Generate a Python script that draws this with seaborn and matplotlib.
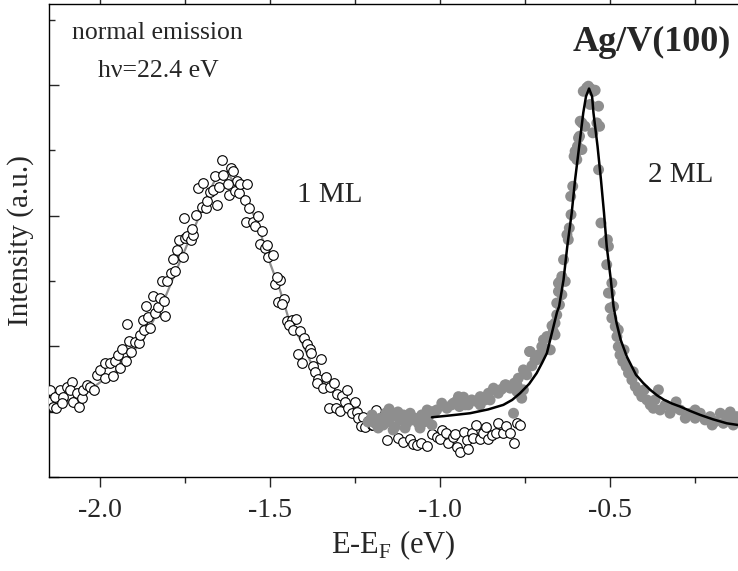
import matplotlib
matplotlib.use('Agg')
import matplotlib.pyplot as plt
from matplotlib.ticker import MultipleLocator, FormatStrFormatter, NullFormatter
import seaborn as sns

# ------------------------------------------------------------
# Data (binding energy vs intensity)
# ------------------------------------------------------------

# 1 ML: open circles
ml1_x = [-2.147, -2.150, -2.132, -2.137, -2.118, -2.129, -2.108, -2.113, -2.098, -2.083,
         -2.088, -2.078, -2.069, -2.061, -2.054, -2.049, -2.039, -2.029, -2.018, -2.010,
         -2.000, -1.985, -1.985, -1.971, -1.961, -1.956, -1.941, -1.946, -1.936, -1.924,
         -1.920, -1.914, -1.910, -1.897, -1.884, -1.882, -1.871, -1.874, -1.865, -1.853,
         -1.858, -1.843, -1.838, -1.829, -1.824, -1.812, -1.808, -1.819, -1.804, -1.792,
         -1.779, -1.786, -1.774, -1.757, -1.767, -1.750, -1.745, -1.733, -1.726, -1.729,
         -1.752, -1.718, -1.701, -1.688, -1.686, -1.655, -1.711, -1.696, -1.676, -1.667,
         -1.662, -1.649, -1.642, -1.637, -1.620, -1.616, -1.610, -1.603, -1.598, -1.590,
         -1.624, -1.588, -1.567, -1.575, -1.561, -1.571, -1.551, -1.544, -1.536, -1.524,
         -1.531, -1.515, -1.505, -1.492, -1.485, -1.471, -1.508, -1.480, -1.476, -1.458,
         -1.464, -1.451, -1.436, -1.424, -1.443, -1.433, -1.412, -1.400, -1.392, -1.384,
         -1.379, -1.418, -1.407, -1.374, -1.351, -1.368, -1.358, -1.335, -1.361, -1.345,
         -1.324, -1.312, -1.302, -1.289, -1.279, -1.273, -1.250, -1.328, -1.306, -1.294,
         -1.270, -1.260, -1.245, -1.240, -1.226, -1.233, -1.221, -1.211, -1.201, -1.188,
         -1.157, -1.196, -1.123, -1.108, -1.088, -1.080, -1.069, -1.057, -1.039, -1.024,
         -1.010, -0.995, -1.000, -0.982, -0.976, -0.963, -0.956, -0.949, -0.941, -0.931,
         -0.921, -0.917, -0.907, -0.894, -0.902, -0.882, -0.873, -0.865, -0.858, -0.848,
         -0.835, -0.829, -0.816, -0.806, -0.794, -0.782, -0.774, -0.765]
ml1_y = [0.667, 0.577, 0.615, 0.539, 0.667, 0.529, 0.615, 0.565, 0.692, 0.726,
         0.667, 0.577, 0.641, 0.534, 0.603, 0.667, 0.705, 0.692, 0.667, 0.782,
         0.820, 0.761, 0.871, 0.871, 0.774, 0.884, 0.833, 0.935, 0.979, 0.891,
         1.172, 1.044, 0.960, 1.037, 1.025, 1.088, 1.126, 1.203, 1.305, 1.139,
         1.228, 1.382, 1.254, 1.300, 1.369, 1.349, 1.234, 1.502, 1.497, 1.561,
         1.573, 1.668, 1.739, 1.684, 1.816, 1.829, 1.847, 1.811, 1.852, 1.900,
         1.982, 2.002, 2.067, 2.059, 2.110, 2.084, 2.212, 2.251, 2.179, 2.199,
         2.301, 2.217, 2.429, 2.309, 2.159, 2.366, 2.345, 2.186, 2.263, 2.174,
         2.243, 2.245, 2.245, 2.123, 2.059, 1.949, 1.949, 1.923, 1.995, 1.880,
         1.783, 1.752, 1.680, 1.701, 1.479, 1.504, 1.778, 1.530, 1.343, 1.366,
         1.323, 1.195, 1.203, 1.213, 1.165, 1.126, 1.119, 1.063, 1.017, 0.979,
         0.948, 0.940, 0.871, 0.853, 0.902, 0.807, 0.749, 0.769, 0.718, 0.680,
         0.692, 0.723, 0.636, 0.621, 0.577, 0.667, 0.577, 0.526, 0.526, 0.506,
         0.526, 0.488, 0.500, 0.450, 0.462, 0.391, 0.385, 0.429, 0.398, 0.513,
         0.284, 0.398, 0.297, 0.270, 0.289, 0.253, 0.245, 0.263, 0.238, 0.330,
         0.309, 0.360, 0.289, 0.335, 0.263, 0.309, 0.330, 0.232, 0.194, 0.347,
         0.284, 0.212, 0.335, 0.398, 0.297, 0.289, 0.335, 0.385, 0.289, 0.322,
         0.339, 0.416, 0.335, 0.391, 0.339, 0.263, 0.411, 0.398]

# 1 ML fit (gray line)
fit1_x = [-2.150, -2.088, -2.010, -1.941, -1.874, -1.815, -1.765, -1.721, -1.682, -1.659,
          -1.641, -1.618, -1.588, -1.559, -1.538, -1.506, -1.471, -1.447, -1.406, -1.374,
          -1.332, -1.285, -1.226, -1.176]
fit1_y = [0.521, 0.590, 0.705, 0.835, 1.050, 1.333, 1.648, 1.916, 2.161, 2.291,
          2.337, 2.299, 2.192, 2.061, 1.954, 1.678, 1.433, 1.226, 1.027, 0.843,
          0.690, 0.575, 0.460, 0.406]

# 2 ML: gray filled circles
ml2_x = [-1.191, -1.176, -1.167, -1.152, -1.142, -1.132, -1.118, -1.108, -1.098, -1.088,
         -1.074, -1.064, -1.054, -1.044, -1.034, -1.024, -1.010, -0.995, -0.980, -0.966,
         -0.953, -0.943, -0.931, -0.917, -0.907, -0.892, -0.882, -0.868, -0.858, -0.843,
         -0.829, -0.819, -0.806, -0.794, -0.782, -0.774, -0.770, -0.760, -0.784, -0.755,
         -0.745, -0.737, -0.730, -0.721, -0.711, -0.701, -0.696, -0.686, -0.688, -0.671,
         -0.667, -0.662, -0.657, -0.649, -0.642,
         -1.200, -1.182, -1.159, -1.138, -1.124, -1.103, -1.082, -1.059, -1.038, -1.150,
         -1.024, -1.212, -1.015, -0.961, -0.946, -0.926, -0.882, -0.853, -0.809, -0.774,
         -0.755, -0.750, -0.735, -0.716, -0.706, -0.696, -0.676, -0.662,
         -0.569, -0.579, -0.557, -0.544, -0.534, -0.588, -0.574, -0.531, -0.551, -0.590,
         -0.596, -0.600, -0.606, -0.534, -0.610, -0.616, -0.527, -0.615, -0.620, -0.627,
         -0.508, -0.505, -0.637, -0.510, -0.642, -0.647, -0.495, -0.632,
         -0.564, -0.549, -0.559, -0.539, -0.583, -0.593, -0.603, -0.583, -0.598, -0.623,
         -0.520, -0.652, -0.652, -0.500, -0.657, -0.490,
         -0.505, -0.500, -0.495, -0.485, -0.480, -0.476, -0.471, -0.463, -0.453, -0.446,
         -0.436, -0.426, -0.417, -0.407, -0.392, -0.358, -0.382, -0.373, -0.353, -0.338,
         -0.324, -0.314, -0.294, -0.279, -0.265, -0.250, -0.235, -0.221, -0.206, -0.191,
         -0.176, -0.167, -0.152, -0.138, -0.128,
         -0.476, -0.459, -0.432, -0.400, -0.368, -0.306, -0.250, -0.200, -0.147]
ml2_y = [0.411, 0.450, 0.398, 0.424, 0.462, 0.385, 0.437, 0.475, 0.411, 0.488,
         0.450, 0.411, 0.475, 0.424, 0.462, 0.500, 0.513, 0.565, 0.526, 0.552,
         0.577, 0.539, 0.611, 0.552, 0.590, 0.577, 0.615, 0.590, 0.641, 0.680,
         0.641, 0.672, 0.705, 0.680, 0.718, 0.654, 0.756, 0.603, 0.488, 0.820,
         0.782, 0.960, 0.851, 0.897, 0.935, 0.998, 1.050, 1.075, 0.979, 1.157,
         1.113, 1.178, 1.241, 1.318, 1.395,
         0.475, 0.375, 0.490, 0.360, 0.498, 0.375, 0.437, 0.375, 0.513, 0.521,
         0.398, 0.421, 0.500, 0.565, 0.615, 0.552, 0.552, 0.590, 0.705, 0.705,
         0.667, 0.795, 0.960, 0.897, 0.922, 0.986, 0.973, 1.088,
         2.979, 2.952, 2.971, 2.960, 2.838, 2.723, 2.684, 2.684, 2.634, 2.608,
         2.531, 2.480, 2.454, 2.352, 2.225, 2.148, 1.944, 2.008, 1.906, 1.854,
         1.816, 1.765, 1.663, 1.625, 1.535, 1.497, 1.484, 1.497,
         2.991, 2.952, 2.851, 2.710, 2.710, 2.595, 2.493, 2.506, 2.429, 1.816,
         1.791, 1.484, 1.420, 1.408, 1.331, 1.305,
         1.408, 1.293, 1.216, 1.152, 1.075, 0.998, 0.935, 0.884, 0.845, 0.795,
         0.743, 0.692, 0.654, 0.615, 0.590, 0.667, 0.552, 0.526, 0.513, 0.552,
         0.488, 0.526, 0.513, 0.450, 0.488, 0.450, 0.488, 0.437, 0.462, 0.424,
         0.488, 0.411, 0.450, 0.398, 0.462,
         1.126, 0.973, 0.805, 0.667, 0.590, 0.575, 0.513, 0.398, 0.498]

# 2 ML fit (black line)
fit2_x = [-1.024, -0.971, -0.912, -0.859, -0.814, -0.788, -0.765, -0.738, -0.716, -0.700,
          -0.686, -0.669, -0.656, -0.650, -0.637, -0.626, -0.613, -0.603, -0.591, -0.579,
          -0.571, -0.562, -0.553, -0.549, -0.537, -0.527, -0.518, -0.510, -0.498, -0.490,
          -0.481, -0.469, -0.451, -0.424, -0.403, -0.382, -0.362, -0.341, -0.318, -0.294,
          -0.265, -0.235, -0.197, -0.157, -0.124]
fit2_y = [0.457, 0.471, 0.488, 0.517, 0.552, 0.590, 0.641, 0.713, 0.795, 0.874,
          0.948, 1.126, 1.264, 1.305, 1.510, 1.765, 2.021, 2.276, 2.531, 2.787,
          2.912, 2.973, 2.912, 2.787, 2.531, 2.276, 2.021, 1.765, 1.510, 1.305,
          1.178, 1.050, 0.922, 0.782, 0.720, 0.667, 0.625, 0.590, 0.562, 0.539,
          0.506, 0.475, 0.441, 0.411, 0.398]

x_major = [-2.0, -1.5, -1.0, -0.5]

# ------------------------------------------------------------
# Style
# ------------------------------------------------------------
sns.set_style('ticks')
plt.rcParams['font.family'] = ['Liberation Serif', 'DejaVu Serif']
plt.rcParams['mathtext.fontset'] = 'custom'
plt.rcParams['mathtext.rm'] = 'Liberation Serif'
plt.rcParams['axes.unicode_minus'] = False

fig = plt.figure(figsize=(7.38, 5.71), dpi=100)
ax = fig.add_axes([49 / 738, 94 / 571, 689 / 738, 473 / 571])

gray = '#8e8e8e'

sns.lineplot(x=fit1_x, y=fit1_y, ax=ax, color=gray, linewidth=1.6,
             estimator=None, sort=False, zorder=2)
sns.scatterplot(x=ml1_x, y=ml1_y, ax=ax, s=48, marker='o', facecolor='white',
                edgecolor='black', linewidth=0.8, zorder=3)
sns.scatterplot(x=ml2_x, y=ml2_y, ax=ax, s=62, marker='o', color=gray,
                edgecolor='none', linewidth=0, zorder=4)
sns.lineplot(x=fit2_x, y=fit2_y, ax=ax, color='black', linewidth=1.8,
             estimator=None, sort=False, zorder=5)

ax.set_xlim(-2.15, -0.124)
ax.set_ylim(0, 3.62)

ax.set_xticks(x_major)
ax.xaxis.set_major_formatter(FormatStrFormatter('%.1f'))
ax.xaxis.set_minor_locator(MultipleLocator(0.25))
ax.yaxis.set_major_locator(MultipleLocator(1.0))
ax.yaxis.set_minor_locator(MultipleLocator(0.5))
ax.yaxis.set_major_formatter(NullFormatter())

ax.tick_params(axis='x', which='both', direction='out', top=True, width=1.0)
ax.tick_params(axis='x', which='major', length=7, pad=8, labelsize=20)
ax.tick_params(axis='x', which='minor', length=4.5)
ax.tick_params(axis='y', which='both', direction='in', width=1.0)
ax.tick_params(axis='y', which='major', length=7)
ax.tick_params(axis='y', which='minor', length=4)

for side in ['left', 'top', 'bottom']:
    ax.spines[side].set_linewidth(1.0)
    ax.spines[side].set_color('black')
ax.spines['right'].set_visible(False)

ax.set_xlabel(r'E-E$_\mathregular{F}$ (eV)', fontsize=22, labelpad=4)
ax.set_ylabel('Intensity (a.u.)', fontsize=21, labelpad=7)

ax.text(0.034, 0.939, 'normal emission', transform=ax.transAxes,
        fontsize=18.5, ha='left', va='center')
ax.text(0.071, 0.858, 'h\u03bd=22.4 eV', transform=ax.transAxes,
        fontsize=18.5, ha='left', va='center')
ax.text(0.990, 0.919, 'Ag/V(100)', transform=ax.transAxes,
        fontsize=26, fontweight='bold', ha='right', va='center')
ax.text(-1.421, 2.161, '1 ML', fontsize=21, ha='left', va='center')
ax.text(-0.389, 2.314, '2 ML', fontsize=21, ha='left', va='center')

fig.savefig('out.png', dpi=100)
